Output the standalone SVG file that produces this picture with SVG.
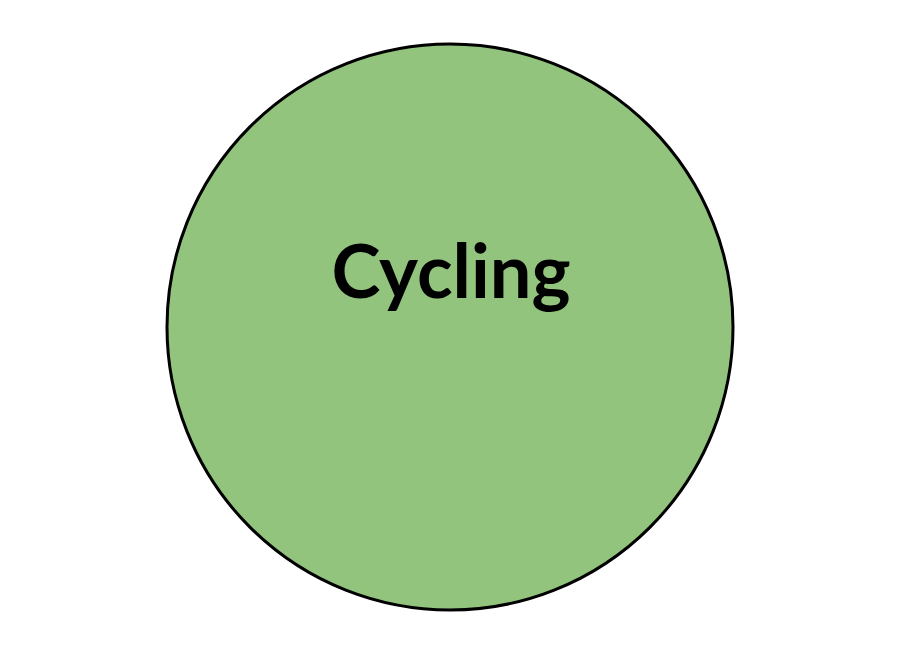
<svg xmlns="http://www.w3.org/2000/svg" width="900" height="650" viewBox="0 0 900 650">
<style>
.node-circle{fill:#93c47d;stroke:#000;stroke-width:3}
.label{font-family:Lato,"Open Sans","Liberation Sans",sans-serif;font-weight:bold;font-size:74px;fill:#000;text-anchor:middle}
</style>
<rect width="900" height="650" fill="#fff"/>
<g id="connectors"></g>
<g id="cycling">
<circle class="node-circle" cx="450" cy="327" r="283"/>
<text class="label" x="451" y="298">Cycling</text>
</g>
</svg>
